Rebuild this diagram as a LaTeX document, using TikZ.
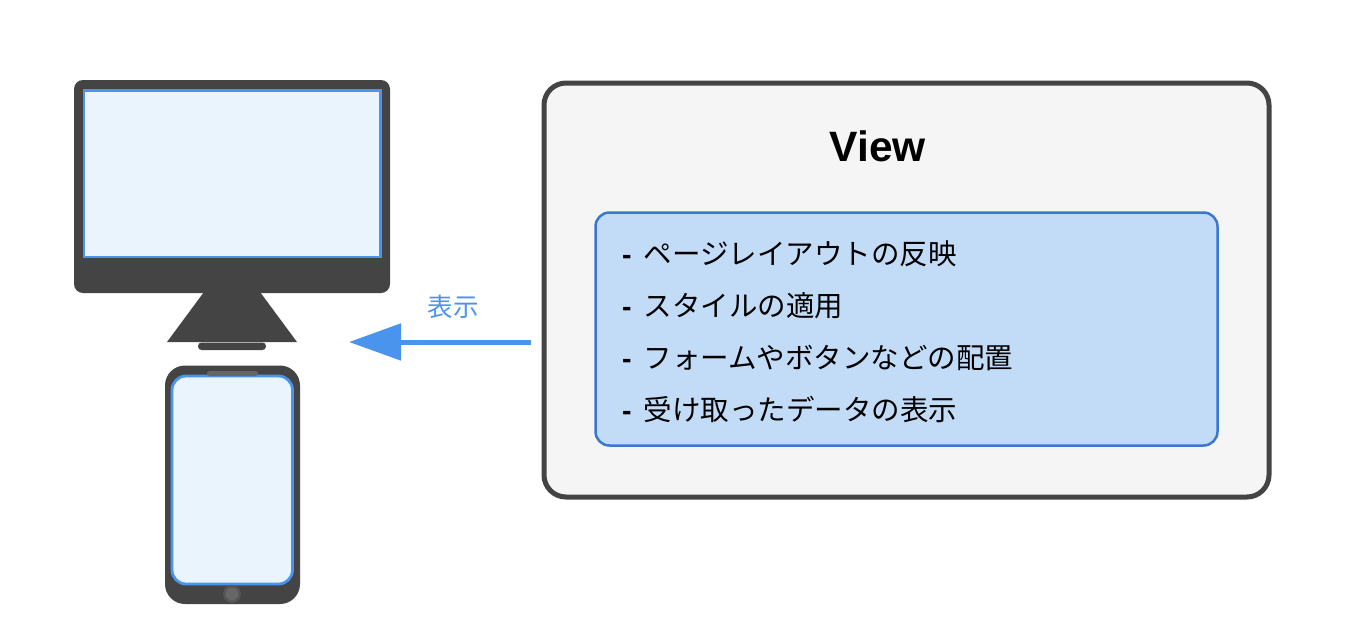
\documentclass[tikz,border=0pt]{standalone}
\usepackage{fontspec}
\setmainfont{Noto Sans CJK JP}
\newfontfamily\titlefont{Liberation Sans}
\usetikzlibrary{arrows.meta}
\definecolor{dark}{HTML}{444444}
\definecolor{blueline}{HTML}{4A94EE}
\definecolor{screenfill}{HTML}{EAF4FD}
\definecolor{panelfill}{HTML}{F5F5F5}
\definecolor{innerfill}{HTML}{C2DCF7}
\definecolor{innerline}{HTML}{3A78D0}
\definecolor{homering}{HTML}{555555}
\definecolor{homecore}{HTML}{666666}
\tikzset{
  body/.style={fill=dark,draw=none},
  screenbox/.style={fill=screenfill,draw=blueline,line width=2.8pt},
  listitem/.style={anchor=west,inner sep=0pt,font=\fontsize{28.5}{30}\selectfont,text=black},
  flowarrow/.style={draw=blueline,line width=5pt,-{Triangle[length=52pt,width=36pt,fill=blueline]}},
}
\newcommand{\dashitem}{{\titlefont\bfseries-}\hspace{12pt}}
\begin{document}
\begin{tikzpicture}[x=1pt,y=-1pt]
\useasboundingbox (0,0) rectangle (1368,640);
\fill[white] (0,0) rectangle (1368,640);
% monitor
\draw[body,rounded corners=9pt] (74,80) rectangle (390,293);
\draw[screenbox] (84,90.5) rectangle (380.5,257);
\fill[dark] (204,292) -- (260,292) -- (297,342) -- (167,342) -- cycle;
\fill[dark,rounded corners=3.5pt] (198,342.5) rectangle (266,350);
% phone
\draw[body,rounded corners=20pt] (165,365.5) rectangle (300,604);
\draw[screenbox,rounded corners=14pt] (172,376) rectangle (292.5,584);
\fill[black!60,rounded corners=2.5pt] (207,371) rectangle (258,376);
\fill[homering] (232,594) circle (9);
\fill[homecore] (232,594) circle (6.5);
% View panel
\node[draw=dark,fill=panelfill,line width=5pt,rounded corners=22pt,minimum width=725pt,minimum height=414pt,inner sep=0pt] (view) at (906.5,290) {};
\node[inner sep=0pt,font=\titlefont\bfseries\fontsize{42.5}{46}\selectfont] (title) at (878,146) {View};
\node[draw=innerline,fill=innerfill,line width=2.5pt,rounded corners=14pt,minimum width=622pt,minimum height=233pt,inner sep=0pt] (inner) at (906.5,329) {};
\node[listitem] (l1) at (622,253.5) {\dashitem ページレイアウトの反映};
\node[listitem] (l2) at (622,305.5) {\dashitem スタイルの適用};
\node[listitem] (l3) at (622,357.5) {\dashitem フォームやボタンなどの配置};
\node[listitem] (l4) at (622,409.5) {\dashitem 受け取ったデータの表示};
% arrow
\coordinate (from) at (531,342);
\coordinate (to) at (349,342);
\draw[flowarrow] (from) -- (to);
\node[inner sep=0pt,text=blueline,font=\fontsize{25.5}{28}\selectfont] (lbl) at (453,306.5) {表示};
\end{tikzpicture}
\end{document}
